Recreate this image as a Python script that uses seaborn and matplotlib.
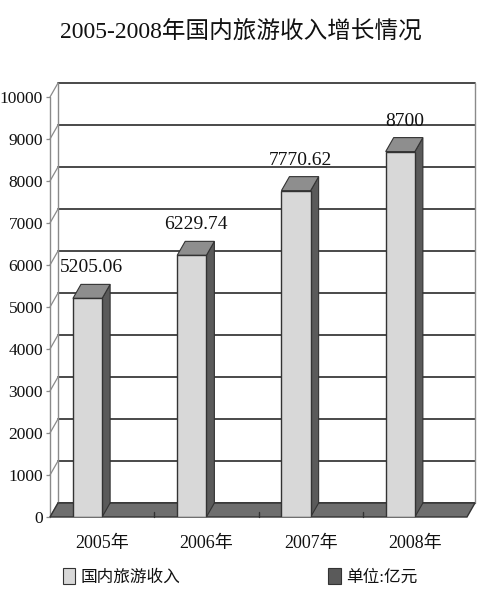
import matplotlib
matplotlib.use('Agg')
import matplotlib.pyplot as plt
import seaborn as sns
import pandas as pd
from matplotlib.patches import Polygon, Patch

# ---- data ----
years = ['2005年', '2006年', '2007年', '2008年']
income = [5205.06, 6229.74, 7770.62, 8700]
value_labels = ['5205.06', '6229.74', '7770.62', '8700']
y_ticks = [0, 1000, 2000, 3000, 4000, 5000, 6000, 7000, 8000, 9000, 10000]
title = '2005-2008年国内旅游收入增长情况'
series_name = '国内旅游收入'
unit_label = '单位:亿元'

sns.set_theme(style='white')
plt.rcParams['font.family'] = ['Liberation Serif', 'Noto Sans CJK SC']

FRONT = '#d8d8d8'
SIDE = '#5a5a5a'
TOP = '#8e8e8e'
FLOOR = '#6e6e6e'
EDGE = '#333333'
GRID = '#3a3a3a'
WALL = '#8a8a8a'
TEXT = '#111111'

W, H = 482, 600
fig = plt.figure(figsize=(W / 100, H / 100), dpi=100)
fig.patch.set_facecolor('white')
left_px, right_px = 50, 467
zero_px, top_px = 517, 97
ax = fig.add_axes([left_px / W, 1 - zero_px / H,
                   (right_px - left_px) / W, (zero_px - top_px) / H])

df = pd.DataFrame({'year': years, 'income': income})
bar_w = 0.28
sns.barplot(data=df, x='year', y='income', width=bar_w, color=FRONT,
            saturation=1, edgecolor=EDGE, linewidth=1.0, ax=ax, zorder=6)

x0, x1 = -0.5 + bar_w / 2, len(years) - 0.5 + bar_w / 2
ymax = y_ticks[-1]
ax.set_xlim(x0, x1)
ax.set_ylim(0, ymax)

px_x = (right_px - left_px) / (x1 - x0)
px_y = (zero_px - top_px) / ymax
dx = 8 / px_x
dy = 14 / px_y

# back wall gridlines
for v in y_ticks:
    ax.plot([x0 + dx, x1 + dx], [v + dy, v + dy], color=GRID, lw=1.3,
            clip_on=False, zorder=1)
    # connector from front axis to back wall
    ax.plot([x0, x0 + dx], [v, v + dy], color=WALL, lw=0.9,
            clip_on=False, zorder=1)
# wall edges
ax.plot([x0 + dx, x0 + dx], [dy, ymax + dy], color=WALL, lw=1.0, clip_on=False, zorder=1)
ax.plot([x1 + dx, x1 + dx], [dy, ymax + dy], color=WALL, lw=1.0, clip_on=False, zorder=1)
ax.plot([x0, x0], [0, ymax], color=WALL, lw=1.0, clip_on=False, zorder=2)

# floor
floor = Polygon([(x0, 0), (x1, 0), (x1 + dx, dy), (x0 + dx, dy)], closed=True,
                facecolor=FLOOR, edgecolor=EDGE, lw=1.0, clip_on=False, zorder=3)
ax.add_patch(floor)
for i in range(1, len(years)):
    b = i - 0.5 + bar_w / 2
    ax.plot([b, b], [0, 5 / px_y], color=EDGE, lw=1.0, clip_on=False, zorder=4)

# 3D sides and tops of bars, from the seaborn bars
bars = list(ax.containers[0])
for bar, lab in zip(bars, value_labels):
    xl = bar.get_x()
    xr = xl + bar.get_width()
    v = bar.get_height()
    side = Polygon([(xr, 0), (xr + dx, dy), (xr + dx, v + dy), (xr, v)], closed=True,
                   facecolor=SIDE, edgecolor=EDGE, lw=0.8, clip_on=False, zorder=5)
    top = Polygon([(xl, v), (xr, v), (xr + dx, v + dy), (xl + dx, v + dy)], closed=True,
                  facecolor=TOP, edgecolor=EDGE, lw=0.8, clip_on=False, zorder=5)
    ax.add_patch(side)
    ax.add_patch(top)
    ax.text((xl + xr) / 2 + dx / 2, v + dy + 12 / px_y, lab, ha='center',
            va='baseline', fontsize=14, color=TEXT, zorder=7)

# axes styling
for s in ax.spines.values():
    s.set_visible(False)
ax.set_facecolor('none')
ax.set_yticks(y_ticks)
ax.set_yticklabels([str(t) for t in y_ticks], fontsize=12.5, color=TEXT)
ax.tick_params(axis='y', left=True, length=3, width=0.9, color=WALL, pad=2)
ax.set_xticks([i + bar_w / 2 for i in range(len(years))])
ax.set_xticklabels(years, fontsize=13, color=TEXT)
ax.tick_params(axis='x', bottom=False, length=0, pad=13)
ax.set_xlabel('')
ax.set_ylabel('')
ax.grid(False)

fig.text(0.5, 1 - 32 / H, title, ha='center', va='center', fontsize=17, color=TEXT)

handles = [Patch(facecolor=FRONT, edgecolor=EDGE, lw=0.8, label=series_name),
           Patch(facecolor=SIDE, edgecolor=EDGE, lw=0.8, label=unit_label)]
fig.legend(handles=handles, loc='center', bbox_to_anchor=(240 / W, 1 - 577 / H),
           ncol=2, frameon=False, fontsize=12, handlelength=0.75, handleheight=1.1,
           handletextpad=0.3, columnspacing=8.9, labelcolor=TEXT)

fig.savefig('out.png', dpi=100, facecolor='white')
